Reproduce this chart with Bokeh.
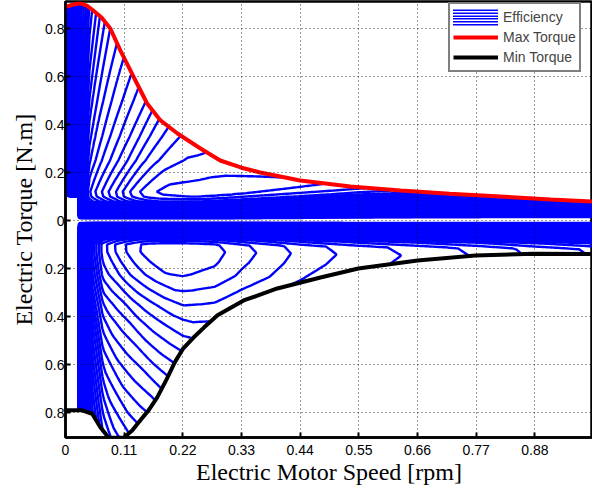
import numpy as np
from bokeh.plotting import figure
from bokeh.models import Legend, LegendItem, FixedTicker, Range1d
from bokeh.embed import file_html
from bokeh.resources import INLINE

# ---------------- data ----------------
# torque envelope
max_speed = [0, 0.015, 0.028, 0.04, 0.052, 0.068, 0.084, 0.103, 0.128, 0.153, 0.178, 0.21,
             0.253, 0.29, 0.33, 0.365, 0.44, 0.534, 0.628, 0.72, 0.815, 0.909, 0.99]
max_torque = [0.89, 0.9, 0.905, 0.895, 0.875, 0.845, 0.80, 0.708, 0.597, 0.4875, 0.417, 0.3625,
              0.30, 0.25, 0.22, 0.2, 0.167, 0.142, 0.125, 0.112, 0.1, 0.088, 0.079]
min_speed = [0, 0.03, 0.05, 0.065, 0.081, 0.109, 0.125, 0.14, 0.156, 0.172, 0.19, 0.205, 0.22,
             0.24, 0.26, 0.285, 0.334, 0.397, 0.478, 0.549, 0.66, 0.768, 0.877, 0.99]
min_torque = [-0.79, -0.79, -0.805, -0.86, -0.905, -0.905, -0.875, -0.833, -0.79, -0.737, -0.66,
              -0.59, -0.535, -0.4875, -0.445, -0.395, -0.333, -0.283, -0.2375, -0.2, -0.167,
              -0.146, -0.138, -0.14]

# efficiency map, described by profiles estimated from the contour pattern
peak_pos = 0.91
peak_neg = 0.9
tq_pts_pos = [0, 0.008, 0.02, 0.035, 0.05, 0.065, 0.08, 0.1, 0.12, 0.17, 0.25, 0.35, 0.5, 0.7, 0.92]
tq_fac_pos = [0, 0, 0.25, 0.52, 0.72, 0.86, 0.95, 0.99, 1.0, 0.99, 0.973, 0.963, 0.953, 0.943, 0.933]
tq_pts_neg = [0, 0.008, 0.02, 0.035, 0.05, 0.065, 0.08, 0.1, 0.13, 0.17, 0.225, 0.29, 0.354, 0.43, 0.5, 0.6, 0.75, 0.92]
tq_fac_neg = [0, 0, 0.25, 0.52, 0.72, 0.86, 0.95, 0.995, 1.0, 0.995, 0.985, 0.963, 0.94, 0.918, 0.9, 0.875, 0.84, 0.80]
# widening of the low-torque band with speed
band_pts = [0, 0.25, 0.4, 0.55, 0.75, 1.0]
band_pos = [1, 1, 1.2, 1.4, 1.55, 1.65]
band_neg = [1, 1, 1.05, 1.1, 1.15, 1.2]
ratio_pts = [0, 0.01, 0.02, 0.035, 0.05, 0.066, 0.09, 0.11, 0.13, 0.15, 0.17, 0.195, 0.225, 0.26, 0.3, 0.4, 10]
ratio_fac_pos = [0.40, 0.52, 0.62, 0.70, 0.76, 0.80, 0.835, 0.857, 0.879, 0.898, 0.92, 0.945, 0.967, 0.985, 0.995, 1.0, 1.0]
ratio_fac_neg = [0.45, 0.55, 0.63, 0.72, 0.79, 0.845, 0.885, 0.905, 0.921, 0.94, 0.955, 0.97, 0.985, 0.997, 1.0, 1.0, 1.0]
low_pts_pos = [0, 0.003, 0.008, 0.015, 0.022, 0.03, 0.045, 2]
low_fac_pos = [0, 0, 0.35, 0.65, 0.82, 0.93, 1.0, 1.0]
low_pts_neg = [0, 0.0249, 0.025, 0.035, 0.05, 0.07, 2]
low_fac_neg = [0, 0, 0.45, 0.75, 0.9, 0.97, 1.0]
hs_pts_pos = [0, 0.3, 0.5, 0.7, 1.0]
hs_fac_pos = [1, 1, 0.99, 0.975, 0.96]
hs_pts_neg = [0, 0.22, 0.28, 0.33, 0.39, 0.45, 0.55, 0.66, 0.78, 0.87, 1.0]
hs_fac_neg = [1, 1, 0.99, 0.968, 0.946, 0.924, 0.90, 0.88, 0.857, 0.835, 0.81]
cut_speed = 0.025
cut_torque = 0.1

x_ticks = [0, 0.11, 0.22, 0.33, 0.44, 0.55, 0.66, 0.77, 0.88]
x_tick_labels = ["0", "0.11", "0.22", "0.33", "0.44", "0.55", "0.66", "0.77", "0.88"]
y_ticks = [-0.8, -0.6, -0.4, -0.2, 0, 0.2, 0.4, 0.6, 0.8]
y_tick_labels = ["0.8", "0.6", "0.4", "0.2", "0", "0.2", "0.4", "0.6", "0.8"]

# ---------------- build the efficiency grid ----------------
spd = np.linspace(0, 0.99, 331)
trq = np.linspace(-0.92, 0.92, 461)
Wg, Tg = np.meshgrid(spd, trq)
aT = np.abs(Tg)
ratio = Wg / (aT + 0.5)
tmax = np.interp(Wg, max_speed, max_torque)
tmin = np.interp(Wg, min_speed, min_torque)
tp = aT / np.interp(Wg, band_pts, band_pos)
tn = aT / np.interp(Wg, band_pts, band_neg)
eff_pos = (peak_pos * np.interp(tp, tq_pts_pos, tq_fac_pos) * np.interp(Wg, low_pts_pos, low_fac_pos)
           * np.interp(ratio, ratio_pts, ratio_fac_pos) * np.interp(Wg, hs_pts_pos, hs_fac_pos))
eff_neg = (peak_neg * np.interp(tn, tq_pts_neg, tq_fac_neg) * np.interp(Wg, low_pts_neg, low_fac_neg)
           * np.interp(ratio, ratio_pts, ratio_fac_neg) * np.interp(Wg, hs_pts_neg, hs_fac_neg))
eff = np.where(Tg >= 0, eff_pos, eff_neg)
eff = np.where((Wg < cut_speed) & (Tg < cut_torque), 0.0, eff)
eff = np.where((Tg > tmax) | (Tg < tmin), np.nan, eff)
levels = list(np.round(np.arange(0.02, 0.97, 0.02), 3))

# ---------------- figure ----------------
p = figure(width=592, height=492, output_backend="svg", toolbar_location=None,
           x_range=Range1d(0, 0.988), y_range=Range1d(-0.904, 0.9125),
           min_border_left=65, min_border_right=0, min_border_top=1, min_border_bottom=55,
           background_fill_color="white", border_fill_color="white")

p.contour(spd, trq, eff, levels, line_color="#0000ff", line_width=2.4)
r_max = p.line(max_speed, max_torque, line_color="#ff0000", line_width=4)
r_min = p.line(min_speed, min_torque, line_color="black", line_width=4)

icon = []
for c, w in [("#0000ff", 16), ("white", 13), ("#0000ff", 10), ("white", 7), ("#0000ff", 4), ("white", 1.2)]:
    icon.append(p.line(x=[np.nan], y=[np.nan], line_color=c, line_width=w, line_cap="round"))

p.xaxis.ticker = FixedTicker(ticks=x_ticks)
p.yaxis.ticker = FixedTicker(ticks=y_ticks)
p.xaxis.major_label_overrides = {t: l for t, l in zip(x_ticks, x_tick_labels)}
p.yaxis.major_label_overrides = {t: l for t, l in zip(y_ticks, y_tick_labels)}
p.xaxis.axis_label = "Electric Motor Speed [rpm]"
p.yaxis.axis_label = "Electric Torque [N.m]"
for ax in (p.xaxis[0], p.yaxis[0]):
    ax.axis_line_width = 2.5
    ax.axis_line_color = "black"
    ax.major_tick_in = 5
    ax.major_tick_out = 0
    ax.major_tick_line_width = 2
    ax.minor_tick_line_color = None
    ax.major_label_text_font = "Liberation Sans"
    ax.major_label_text_font_size = "14px"
    ax.major_label_text_color = "black"
    ax.axis_label_text_font = "Liberation Serif"
    ax.axis_label_text_font_size = "24px"
    ax.axis_label_text_font_style = "normal"
    ax.axis_label_text_color = "black"
p.xaxis.major_label_standoff = 7
p.xaxis.axis_label_standoff = 1
p.yaxis.major_label_standoff = 1
p.yaxis.axis_label_standoff = 5

p.outline_line_color = "black"
p.outline_line_width = 2.5
p.grid.grid_line_color = "black"
p.grid.grid_line_dash = "1 3"
p.grid.grid_line_width = 1
p.grid.grid_line_alpha = 0.8
p.grid.level = "guide"

legend = Legend(items=[LegendItem(label="Efficiency", renderers=icon),
                       LegendItem(label="Max Torque", renderers=[r_max]),
                       LegendItem(label="Min Torque", renderers=[r_min])],
                location=(383, 365))
legend.border_line_color = "black"
legend.border_line_width = 2
legend.background_fill_color = "white"
legend.background_fill_alpha = 1
legend.label_text_font = "Liberation Sans"
legend.label_text_font_size = "14px"
legend.glyph_width = 45
legend.glyph_height = 20
legend.label_height = 20
legend.label_standoff = 5
legend.padding = 3
legend.spacing = 0
legend.margin = 0
p.add_layout(legend)

open("out.html", "w").write(file_html(p, INLINE))
